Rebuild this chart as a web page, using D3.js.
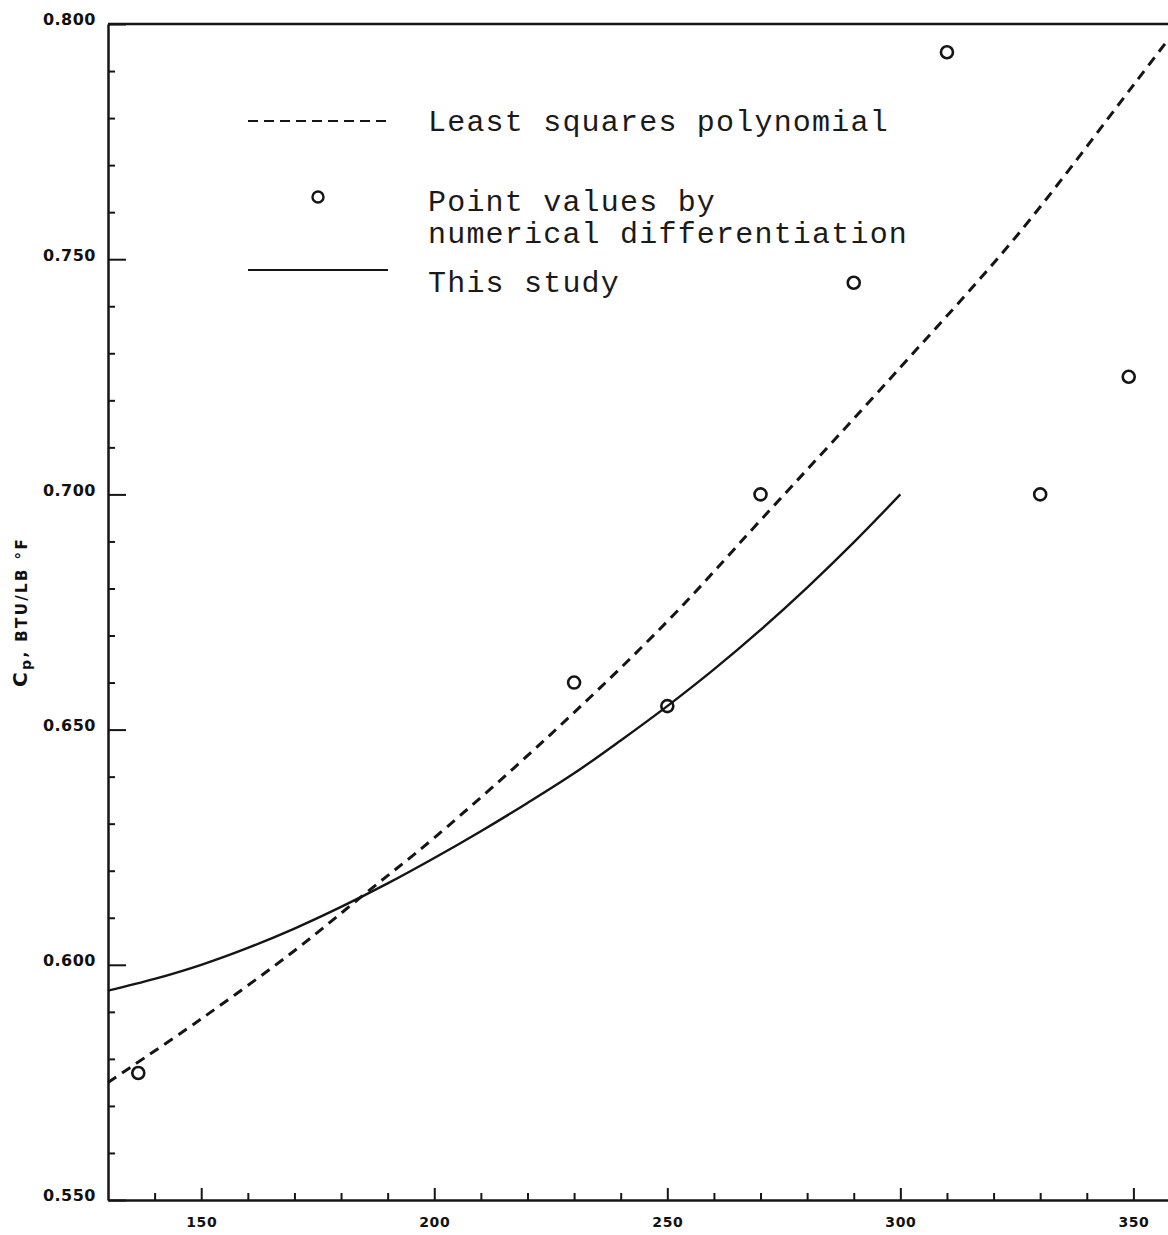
<!DOCTYPE html>
<html>
<head>
<meta charset="utf-8">
<script src="https://cdn.jsdelivr.net/npm/d3@7"></script>
<style>
  html, body { margin: 0; padding: 0; background: #fff; }
  svg { display: block; }
  .tick-label { font-family: "DejaVu Sans", sans-serif; font-weight: bold; fill: #111; }
  .legend-text { font-family: "Liberation Mono", monospace; fill: #1a1a1a; }
</style>
</head>
<body>
<svg id="chart" width="1168" height="1235"></svg>
<script>
// Temperature (°F) and heat capacity values
const pointTemps = [136.5, 230, 250, 270, 290, 310, 330, 349];
const pointCp    = [0.577, 0.660, 0.655, 0.700, 0.745, 0.794, 0.700, 0.725];

// Least squares polynomial, read along its length
const lsqTemps = [130, 150, 170, 185, 200, 225, 250, 270, 300, 325, 350, 360];
const lsqCp    = [0.575, 0.5885, 0.603, 0.615, 0.627, 0.649, 0.673, 0.6945, 0.727, 0.755, 0.787, 0.800];

// This study
const studyTemps = [130, 140, 150, 160, 170, 180, 190, 200, 210, 220, 230, 240, 250, 260, 270, 280, 290, 300];
const studyCp    = [0.5945, 0.5970, 0.6000, 0.6036, 0.6077, 0.6123, 0.6173, 0.6227, 0.6284, 0.6344, 0.6407, 0.6477, 0.655, 0.6628, 0.6712, 0.6802, 0.6898, 0.700];

// Axis ticks
const xMajorTicks = [150, 200, 250, 300, 350];
const xMinorTicks = [140, 160, 170, 180, 190, 210, 220, 230, 240, 260, 270, 280, 290, 310, 320, 330, 340];
const yMajorTicks = [0.550, 0.600, 0.650, 0.700, 0.750, 0.800];
const yMinorTicks = [0.56, 0.57, 0.58, 0.59, 0.61, 0.62, 0.63, 0.64, 0.66, 0.67, 0.68, 0.69, 0.71, 0.72, 0.73, 0.74, 0.76, 0.77, 0.78, 0.79];

const legendLabels = ["Least squares polynomial", "Point values by", "numerical differentiation", "This study"];
const yTitle = { main: "C", sub: "p", rest: ", BTU/LB °F" };

const svg = d3.select("#chart");
const ink = "#151515";

const x = d3.scaleLinear().domain([130, 360]).range([108, 1180]);
const y = d3.scaleLinear().domain([0.550, 0.800]).range([1200, 24]);

// Minor ticks (no labels)
svg.append("g")
  .attr("transform", `translate(0,${y(0.55)})`)
  .call(d3.axisBottom(x).tickValues(xMinorTicks).tickSize(-7).tickFormat(""))
  .call(g => g.select(".domain").remove())
  .call(g => g.selectAll("line").attr("stroke", ink).attr("stroke-width", 2));

svg.append("g")
  .attr("transform", `translate(${x(130)},0)`)
  .call(d3.axisLeft(y).tickValues(yMinorTicks).tickSize(-7).tickFormat(""))
  .call(g => g.select(".domain").remove())
  .call(g => g.selectAll("line").attr("stroke", ink).attr("stroke-width", 2));

// Major x axis
svg.append("g")
  .attr("transform", `translate(0,${y(0.55)})`)
  .call(d3.axisBottom(x).tickValues(xMajorTicks).tickSize(-12).tickPadding(17).tickSizeOuter(0).tickFormat(d3.format("d")))
  .call(g => g.select(".domain").attr("stroke", ink).attr("stroke-width", 2.5))
  .call(g => g.selectAll("line").attr("stroke", ink).attr("stroke-width", 2))
  .call(g => g.selectAll("text").attr("class", "tick-label").attr("font-size", 14).attr("letter-spacing", 0.6).attr("fill", ink));

// Major y axis
svg.append("g")
  .attr("transform", `translate(${x(130)},0)`)
  .call(d3.axisLeft(y).tickValues(yMajorTicks).tickSize(-18).tickPadding(12).tickSizeOuter(0).tickFormat(d3.format(".3f")))
  .call(g => g.select(".domain").attr("stroke", ink).attr("stroke-width", 2.5))
  .call(g => g.selectAll("line").attr("stroke", ink).attr("stroke-width", 2))
  .call(g => g.selectAll("text").attr("class", "tick-label").attr("font-size", 16).attr("letter-spacing", 0.5).attr("dy", "0.05em").attr("fill", ink));

// Top frame line
svg.append("line")
  .attr("x1", x(130)).attr("x2", x(360))
  .attr("y1", y(0.8)).attr("y2", y(0.8))
  .attr("stroke", ink).attr("stroke-width", 2.5);

// Y axis title
const yt = svg.append("text")
  .attr("class", "tick-label")
  .attr("transform", `translate(27,612) rotate(-90)`)
  .attr("text-anchor", "middle")
  .attr("font-size", 15)
  .attr("letter-spacing", 2.4)
  .attr("fill", ink);
yt.append("tspan").attr("font-size", 20).text(yTitle.main);
yt.append("tspan").attr("dy", 4).attr("font-size", 14).text(yTitle.sub);
yt.append("tspan").attr("dy", -4).text(yTitle.rest);

// Curves
const line = d3.line().x(d => x(d[0])).y(d => y(d[1])).curve(d3.curveCatmullRom.alpha(0.5));

svg.append("path")
  .datum(d3.zip(studyTemps, studyCp))
  .attr("d", line)
  .attr("fill", "none")
  .attr("stroke", ink)
  .attr("stroke-width", 2.4);

svg.append("path")
  .datum(d3.zip(lsqTemps, lsqCp))
  .attr("d", line)
  .attr("fill", "none")
  .attr("stroke", ink)
  .attr("stroke-width", 3)
  .attr("stroke-dasharray", "10,7");

// Points
svg.append("g")
  .selectAll("circle")
  .data(d3.zip(pointTemps, pointCp))
  .join("circle")
  .attr("cx", d => x(d[0]))
  .attr("cy", d => y(d[1]))
  .attr("r", 6)
  .attr("fill", "none")
  .attr("stroke", ink)
  .attr("stroke-width", 2.6);

// Legend
const lg = svg.append("g");
lg.append("line")
  .attr("x1", 248).attr("x2", 392).attr("y1", 121).attr("y2", 121)
  .attr("stroke", ink).attr("stroke-width", 2).attr("stroke-dasharray", "10,6");
lg.append("circle")
  .attr("cx", 318).attr("cy", 197).attr("r", 5.5)
  .attr("fill", "none").attr("stroke", ink).attr("stroke-width", 2.4);
lg.append("line")
  .attr("x1", 248).attr("x2", 388).attr("y1", 270).attr("y2", 270)
  .attr("stroke", ink).attr("stroke-width", 2.2);

const legendY = [131, 211, 243, 292];
lg.selectAll("text")
  .data(legendLabels)
  .join("text")
  .attr("class", "legend-text")
  .attr("x", 428)
  .attr("y", (d, i) => legendY[i])
  .attr("font-size", 30)
  .attr("letter-spacing", 1.2)
  .text(d => d);
</script>
</body>
</html>
